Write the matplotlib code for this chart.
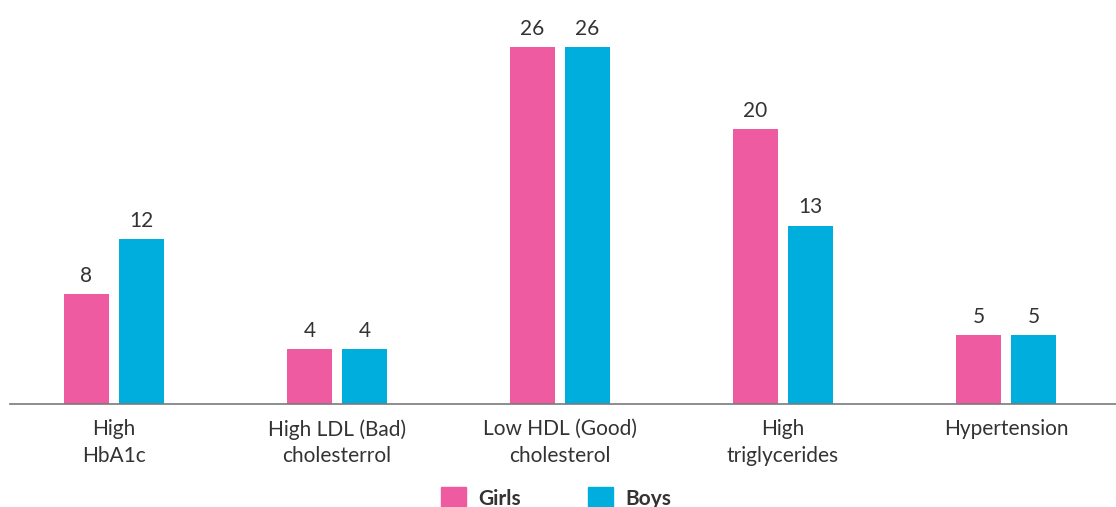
import matplotlib
matplotlib.use("Agg")
import matplotlib.pyplot as plt
from matplotlib.patches import Patch
import numpy as np

categories = ["High\nHbA1c", "High LDL (Bad)\ncholesterrol", "Low HDL (Good)\ncholesterol",
              "High\ntriglycerides", "Hypertension"]
girls = [8, 4, 26, 20, 5]
boys = [12, 4, 26, 13, 5]
series_names = ["Girls", "Boys"]

PINK = "#EE5BA0"
BLUE = "#00AEDD"
TEXT = "#333333"

plt.rcParams["font.family"] = ["Lato", "DejaVu Sans"]

fig = plt.figure(figsize=(11.16, 5.07), dpi=100)
ax = fig.add_axes([10 / 1116, 103 / 507, 1106 / 1116, 394 / 507])

x = np.arange(len(categories))
width = 0.202
offset = 0.123

bars_g = ax.bar(x - offset, girls, width, color=PINK)
bars_b = ax.bar(x + offset, boys, width, color=BLUE)

for bars in (bars_g, bars_b):
    ax.bar_label(bars, padding=6, fontsize=15, color=TEXT)

ax.set_xlim(-0.466, 4.493)
ax.set_ylim(0, 28.7)

for s in ("top", "right", "left"):
    ax.spines[s].set_visible(False)
ax.spines["bottom"].set_color("#7a7a7a")
ax.spines["bottom"].set_linewidth(1.2)
ax.set_yticks([])
ax.set_xticks(x)
ax.set_xticklabels(categories, fontsize=15, color=TEXT, linespacing=1.4)
ax.tick_params(axis="x", length=0, pad=11)

handles = [Patch(color=PINK, label=series_names[0]), Patch(color=BLUE, label=series_names[1])]
fig.legend(handles=handles, loc="center", bbox_to_anchor=(556 / 1116, 1 - 498 / 507),
           ncol=2, frameon=False, handlelength=1.2, handleheight=1.2,
           handletextpad=0.6, columnspacing=3.2,
           prop={"weight": "bold", "size": 15})
for t in fig.legends[0].get_texts():
    t.set_color(TEXT)

fig.savefig("out.png", dpi=100)
